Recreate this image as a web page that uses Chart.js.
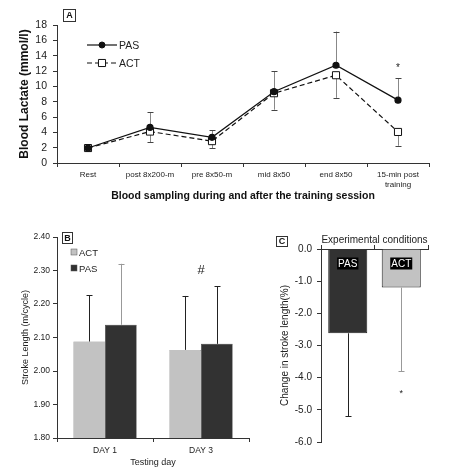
<!DOCTYPE html>
<html>
<head>
<meta charset="utf-8">
<script src="https://cdn.jsdelivr.net/npm/chart.js@4.4.1/dist/chart.umd.min.js"></script>
<style>
html, body { margin: 0; padding: 0; background: #fff; }
#wrap { position: relative; width: 450px; height: 475px; overflow: hidden; }
canvas { position: absolute; }
</style>
</head>
<body>
<div id="wrap">
  <canvas id="lactate" width="450" height="210" style="left:0px;top:0px"></canvas>
  <canvas id="strokeDay" width="250" height="255" style="left:0px;top:220px"></canvas>
  <canvas id="strokeChange" width="200" height="255" style="left:250px;top:220px"></canvas>
</div>
<script>
// panel A - blood lactate
var stages = ['Rest', 'post 8x200-m', 'pre 8x50-m', 'mid 8x50', 'end 8x50', ['15-min post', 'training']];
var pasLactate = [1.95, 4.65, 3.35, 9.3, 12.75, 8.2];
var actLactate = [1.95, 4.1, 2.85, 9.1, 11.45, 4.05];
var pasLactateSd = [0.3, 1.95, 0.9, 2.7, 4.4, 2.85];
var actLactateSd = [0.35, 1.4, 0.95, 2.15, 2.95, 1.8];
var lactateStars = [{ index: 5, value: 12.3, text: '*' }];

// panel B - stroke length per testing day
var testDays = ['DAY 1', 'DAY 3'];
var actStroke = [2.088, 2.063];
var pasStroke = [2.138, 2.081];
var actStrokeSd = [0.138, 0.161];
var pasStrokeSd = [0.182, 0.172];
var strokeMarks = [{ index: 1, value: 2.3, text: '#' }];

// panel C - change in stroke length
var conditions = ['PAS', 'ACT'];
var strokeChange = [-2.62, -1.2];
var strokeChangeSd = [2.58, 2.6];
var changeMarks = [{ index: 1, value: -4.5, text: '*' }];

var FONT = "'Liberation Sans', Arial, sans-serif";
Chart.defaults.font.family = FONT;
Chart.defaults.color = '#222';
Chart.defaults.animation = false;

var whiskers = function(sets, under) {
    var draw = function(chart) {
        var ctx = chart.ctx;
        var y = chart.scales.y;
        sets.forEach(function(s) {
            var meta = chart.getDatasetMeta(s.dataset);
            var values = chart.data.datasets[s.dataset].data;
            meta.data.forEach(function(el, i) {
                var y0 = y.getPixelForValue(values[i]);
                var y1 = y.getPixelForValue(values[i] + s.dir * s.err[i]);
                var col = Array.isArray(s.color) ? s.color[i] : s.color;
                var xx = Math.round(el.x) + 0.5;
                ctx.save();
                ctx.strokeStyle = col;
                ctx.lineWidth = 1;
                ctx.beginPath();
                ctx.moveTo(xx, y0);
                ctx.lineTo(xx, y1);
                ctx.stroke();
                ctx.strokeStyle = s.capColor || col;
                ctx.beginPath();
                ctx.moveTo(xx - s.cap, Math.round(y1) + 0.5);
                ctx.lineTo(xx + s.cap, Math.round(y1) + 0.5);
                ctx.stroke();
                ctx.restore();
            });
        });
    };
    return under ? { id: 'whiskers', beforeDatasetsDraw: draw } : { id: 'whiskers', afterDatasetsDraw: draw };
};

var marks = function(list, size) {
    return {
        id: 'marks',
        afterDatasetsDraw: function(chart) {
            var ctx = chart.ctx;
            ctx.save();
            ctx.fillStyle = '#222';
            ctx.font = size + 'px ' + FONT;
            ctx.textAlign = 'center';
            ctx.textBaseline = 'middle';
            list.forEach(function(m) {
                ctx.fillText(m.text, chart.scales.x.getPixelForValue(m.index), chart.scales.y.getPixelForValue(m.value));
            });
            ctx.restore();
        }
    };
};

var panelTag = function(letter, x, y, w, h) {
    return {
        id: 'panelTag',
        afterDraw: function(chart) {
            var ctx = chart.ctx;
            ctx.save();
            ctx.fillStyle = '#fff';
            ctx.fillRect(x, y, w, h);
            ctx.strokeStyle = '#333';
            ctx.lineWidth = 1;
            ctx.strokeRect(x + 0.5, y + 0.5, w, h);
            ctx.fillStyle = '#111';
            ctx.font = 'bold 9px ' + FONT;
            ctx.textAlign = 'center';
            ctx.textBaseline = 'middle';
            ctx.fillText(letter, x + w / 2 + 0.5, y + h / 2 + 1);
            ctx.restore();
        }
    };
};

// line + marker legend for panel A
var lineLegend = {
    id: 'lineLegend',
    afterDraw: function(chart) {
        var ctx = chart.ctx;
        var area = chart.chartArea;
        chart.data.datasets.forEach(function(ds, i) {
            var x0 = area.left + 30, yy = area.top + 20 + i * 18;
            ctx.save();
            ctx.strokeStyle = ds.borderColor;
            ctx.lineWidth = ds.borderWidth;
            ctx.setLineDash(ds.borderDash || []);
            ctx.beginPath();
            ctx.moveTo(x0, yy);
            ctx.lineTo(x0 + 30, yy);
            ctx.stroke();
            ctx.setLineDash([]);
            ctx.fillStyle = ds.pointBackgroundColor;
            ctx.strokeStyle = ds.pointBorderColor;
            ctx.lineWidth = 1;
            ctx.beginPath();
            if (ds.pointStyle === 'rect') {
                var h = ds.pointRadius * Math.SQRT1_2;
                ctx.rect(x0 + 15 - h, yy - h, 2 * h, 2 * h);
            } else {
                ctx.arc(x0 + 15, yy, ds.pointRadius, 0, Math.PI * 2);
            }
            ctx.fill();
            ctx.stroke();
            ctx.fillStyle = '#222';
            ctx.font = '10.5px ' + FONT;
            ctx.textBaseline = 'middle';
            ctx.fillText(ds.label, x0 + 32, yy + 1);
            ctx.restore();
        });
    }
};

// square swatch legend for panel B
var boxLegend = {
    id: 'boxLegend',
    afterDraw: function(chart) {
        var ctx = chart.ctx;
        var area = chart.chartArea;
        chart.data.datasets.forEach(function(ds, i) {
            var x0 = area.left + 14, yy = area.top + 15 + i * 16;
            ctx.save();
            ctx.fillStyle = ds.backgroundColor;
            ctx.fillRect(x0, yy - 3, 6, 6);
            ctx.strokeStyle = '#555';
            ctx.lineWidth = 0.5;
            ctx.strokeRect(x0, yy - 3, 6, 6);
            ctx.fillStyle = '#222';
            ctx.font = '9.5px ' + FONT;
            ctx.textBaseline = 'middle';
            ctx.fillText(ds.label, x0 + 8, yy + 1);
            ctx.restore();
        });
    }
};

// label boxes sitting at the top of each bar in panel C
var barTags = {
    id: 'barTags',
    afterDatasetsDraw: function(chart) {
        var ctx = chart.ctx;
        var meta = chart.getDatasetMeta(0);
        ctx.save();
        ctx.font = '10px ' + FONT;
        ctx.textAlign = 'center';
        ctx.textBaseline = 'middle';
        meta.data.forEach(function(el, i) {
            var txt = chart.data.labels[i];
            var w = ctx.measureText(txt).width + 2;
            var yy = el.base + 14;
            ctx.fillStyle = '#000';
            ctx.fillRect(el.x - w / 2, yy - 6, w, 12);
            ctx.fillStyle = '#fff';
            ctx.fillText(txt, el.x, yy + 1);
        });
        ctx.restore();
    }
};

var axisGrid = { drawOnChartArea: false, tickLength: 4, color: '#333' };

new Chart(document.getElementById('lactate'), {
    type: 'line',
    data: {
        labels: stages,
        datasets: [{
            label: 'PAS',
            data: pasLactate,
            borderColor: '#111',
            borderWidth: 1.2,
            pointRadius: 3,
            pointBackgroundColor: '#111',
            pointBorderColor: '#111',
            tension: 0
        }, {
            label: 'ACT',
            data: actLactate,
            borderColor: '#111',
            borderWidth: 1.2,
            borderDash: [5, 3],
            pointStyle: 'rect',
            pointRadius: 5,
            pointBackgroundColor: '#fff',
            pointBorderColor: '#111',
            pointBorderWidth: 1,
            tension: 0
        }]
    },
    options: {
        responsive: false,
        layout: { padding: { left: 17, top: 25, right: 21, bottom: 8 } },
        plugins: { legend: { display: false }, tooltip: { enabled: false } },
        scales: {
            x: {
                offset: true,
                grid: { offset: true, drawOnChartArea: false, tickLength: 4, color: '#333' },
                border: { color: '#333' },
                ticks: { font: { size: 8 }, maxRotation: 0, autoSkip: false, padding: 3 },
                title: { display: true, text: 'Blood sampling during and after the training session', font: { size: 10.5, weight: 'bold' }, padding: 0, color: '#111' },
                afterFit: function(s) { s.height = 39; }
            },
            y: {
                min: 0,
                max: 18,
                grid: axisGrid,
                border: { color: '#333' },
                ticks: { stepSize: 2, autoSkip: false, font: { size: 10.5 }, padding: 6 },
                title: { display: true, text: 'Blood Lactate (mmol/l)', font: { size: 12, weight: 'bold' }, padding: 0, color: '#111' },
                afterFit: function(s) { s.width = 40; }
            }
        }
    },
    plugins: [
        whiskers([
            { dataset: 0, err: pasLactateSd, dir: 1, color: '#888', capColor: '#444', cap: 3 },
            { dataset: 1, err: actLactateSd, dir: -1, color: '#888', capColor: '#444', cap: 3 }
        ], true),
        marks(lactateStars, 10),
        lineLegend,
        panelTag('A', 63, 9, 12, 12)
    ]
});

new Chart(document.getElementById('strokeDay'), {
    type: 'bar',
    data: {
        labels: testDays,
        datasets: [{
            label: 'ACT',
            data: actStroke,
            backgroundColor: '#c2c2c2',
            borderColor: '#888',
            borderWidth: 0.5,
            categoryPercentage: 0.66,
            barPercentage: 1
        }, {
            label: 'PAS',
            data: pasStroke,
            backgroundColor: '#323232',
            borderColor: '#222',
            borderWidth: 0.5,
            categoryPercentage: 0.66,
            barPercentage: 1
        }]
    },
    options: {
        responsive: false,
        layout: { padding: { left: 20, top: 17, right: 1, bottom: 7 } },
        plugins: { legend: { display: false }, tooltip: { enabled: false } },
        scales: {
            x: {
                offset: true,
                grid: { offset: true, drawOnChartArea: false, tickLength: 4, color: '#333' },
                border: { color: '#333' },
                ticks: { font: { size: 8.5 }, padding: 4 },
                title: { display: true, text: 'Testing day', font: { size: 9 }, padding: 0 },
                afterFit: function(s) { s.height = 30; }
            },
            y: {
                min: 1.8,
                max: 2.4,
                grid: axisGrid,
                border: { color: '#333' },
                ticks: { stepSize: 0.1, autoSkip: false, font: { size: 8.5 }, padding: 3, callback: function(v) { return v.toFixed(2); } },
                title: { display: true, text: 'Stroke Length (m/cycle)', font: { size: 9 }, padding: 0 },
                afterFit: function(s) { s.width = 37; }
            }
        }
    },
    plugins: [
        whiskers([
            { dataset: 0, err: actStrokeSd, dir: 1, color: '#222', cap: 3 },
            { dataset: 1, err: pasStrokeSd, dir: 1, color: ['#999', '#222'], cap: 3 }
        ], false),
        marks(strokeMarks, 13),
        boxLegend,
        panelTag('B', 62, 12, 10, 11)
    ]
});

new Chart(document.getElementById('strokeChange'), {
    type: 'bar',
    data: {
        labels: conditions,
        datasets: [{
            label: 'Change',
            data: strokeChange,
            backgroundColor: ['#323232', '#c2c2c2'],
            borderColor: '#222',
            borderWidth: 1,
            categoryPercentage: 0.73,
            barPercentage: 1
        }]
    },
    options: {
        responsive: false,
        layout: { padding: { left: 29, top: 14, right: 22, bottom: 33 } },
        plugins: { legend: { display: false }, tooltip: { enabled: false } },
        scales: {
            x: {
                position: 'top',
                offset: true,
                grid: { offset: true, drawOnChartArea: false, tickLength: 4, color: '#333' },
                border: { color: '#333' },
                ticks: { display: false },
                title: { display: true, text: 'Experimental conditions', font: { size: 10 }, padding: 0 },
                afterFit: function(s) { s.height = 15; }
            },
            y: {
                min: -6,
                max: 0,
                grid: axisGrid,
                border: { color: '#333' },
                ticks: { stepSize: 1, autoSkip: false, font: { size: 10 }, padding: 5, callback: function(v) { return v.toFixed(1); } },
                title: { display: true, text: 'Change in stroke length(%)', font: { size: 10 }, padding: 0 },
                afterFit: function(s) { s.width = 42; }
            }
        }
    },
    plugins: [
        whiskers([
            { dataset: 0, err: strokeChangeSd, dir: -1, color: ['#222', '#999'], cap: 3 }
        ], false),
        barTags,
        marks(changeMarks, 9),
        panelTag('C', 26, 16, 11, 10)
    ]
});
</script>
</body>
</html>
